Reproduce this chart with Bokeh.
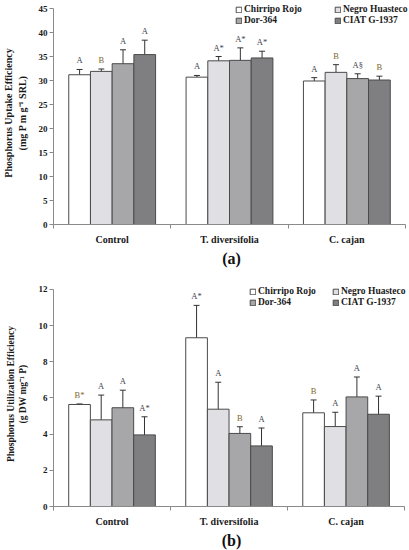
import numpy as np
from bokeh.plotting import figure
from bokeh.models import (ColumnDataSource, Whisker, TeeHead, Legend, LegendItem,
                          FixedTicker, Title, Range1d)
from bokeh.layouts import column
from bokeh.core.properties import value
from bokeh.embed import file_html
from bokeh.resources import INLINE

# ---------------- data ----------------
groups = ["Control", "T. diversifolia", "C. cajan"]
cultivars = ["Chirripo Rojo", "Negro Huasteco", "Dor-364", "CIAT G-1937"]

# (a) Phosphorus uptake efficiency
pupe_chirripo = [31.2, 30.7, 29.9]
pupe_negro = [31.9, 34.1, 31.7]
pupe_dor = [33.5, 34.2, 30.4]
pupe_ciat = [35.4, 34.7, 30.1]
pupe_chirripo_err = [1.1, 0.35, 0.7]
pupe_negro_err = [0.5, 0.9, 1.6]
pupe_dor_err = [2.9, 2.6, 1.0]
pupe_ciat_err = [3.0, 1.4, 0.8]
pupe_chirripo_lbl = ["A", "A", "A"]
pupe_negro_lbl = ["B", "A*", "B"]
pupe_dor_lbl = ["A", "A*", "A§"]
pupe_ciat_lbl = ["A", "A*", "B"]

# (b) Phosphorus utilization efficiency
pute_chirripo = [5.64, 9.33, 5.18]
pute_negro = [4.79, 5.38, 4.42]
pute_dor = [5.46, 4.04, 6.06]
pute_ciat = [3.96, 3.35, 5.10]
pute_chirripo_err = [0.03, 1.79, 0.71]
pute_negro_err = [1.37, 1.49, 0.79]
pute_dor_err = [0.97, 0.37, 1.10]
pute_ciat_err = [1.00, 0.99, 1.00]
pute_chirripo_lbl = ["B*", "A*", "B"]
pute_negro_lbl = ["A", "A", "A"]
pute_dor_lbl = ["A", "B", "A"]
pute_ciat_lbl = ["A*", "A", "A"]

fill_colors = ["#ffffff", "#e0dfe3", "#a7a7a9", "#7f7f81"]
SERIF = "Liberation Serif"
SERIF_V = value(SERIF)
offsets = [-0.2775, -0.0925, 0.0925, 0.2775]
BAR_W = 0.185


def make_chart(means, errs, lbls, ymax, yend, xend, ystep, ylabel, tag, height, bt, bb, bl,
               ylab_size, leg_pos):
    p = figure(width=409, height=height, output_backend="svg", toolbar_location=None,
               x_range=Range1d(0, xend), y_range=Range1d(0, yend),
               min_border_left=bl, min_border_right=0, min_border_top=bt,
               min_border_bottom=bb)
    p.outline_line_color = None
    p.grid.visible = False
    p.background_fill_color = "white"

    xc = np.arange(len(groups)) + 0.5
    renderers = []
    for i in range(4):
        xs = xc + offsets[i]
        m = np.array(means[i])
        e = np.array(errs[i])
        src = ColumnDataSource(dict(x=xs, top=m, up=m + e, lo=m - e, lbl=lbls[i],
                                    col=["#7d6a2a" if s.startswith("B") else "#3c4450"
                                         for s in lbls[i]]))
        r = p.vbar(x="x", top="top", width=BAR_W, source=src, fill_color=fill_colors[i],
                   line_color="#4a4a4a", line_width=1)
        renderers.append(r)
        w = Whisker(base="x", upper="up", lower="lo", source=src, line_color="#333333",
                    line_width=1,
                    upper_head=TeeHead(size=6, line_color="#333333", line_width=1),
                    lower_head=TeeHead(size=6, line_color="#333333", line_width=1))
        p.add_layout(w)
        p.text(x="x", y="up", text="lbl", source=src, text_align="center",
               text_baseline="bottom", y_offset=-4, text_font=SERIF_V,
               text_font_size="8.5px", text_color="col")

    # axes
    p.xaxis.ticker = FixedTicker(ticks=list(xc), minor_ticks=[0, 1, 2, 3])
    p.xaxis.major_label_overrides = {float(x): g for x, g in zip(xc, groups)}
    p.xaxis.bounds = (0, len(groups))
    p.xaxis.major_tick_out = 0
    p.xaxis.major_tick_in = 0
    p.xaxis.minor_tick_out = 4
    p.xaxis.minor_tick_in = 0
    p.xaxis.major_label_standoff = 5
    p.yaxis.ticker = FixedTicker(ticks=list(np.arange(0, ymax + 0.01, ystep)), minor_ticks=[])
    p.yaxis.bounds = (0, ymax)
    p.yaxis.major_tick_out = 4
    p.yaxis.major_tick_in = 0
    p.yaxis.major_label_standoff = 2
    p.yaxis.axis_label = ylabel
    p.yaxis.axis_label_standoff = 8
    p.yaxis.axis_label_text_font = SERIF
    p.yaxis.axis_label_text_font_style = "bold"
    p.yaxis.axis_label_text_font_size = ylab_size
    p.yaxis.axis_label_text_color = "#1a1a1a"
    for ax in (p.xaxis, p.yaxis):
        ax.axis_line_color = "#8a8a8a"
        ax.major_tick_line_color = "#8a8a8a"
        ax.minor_tick_line_color = "#8a8a8a"
        ax.major_label_text_font = SERIF
        ax.major_label_text_font_style = "bold"
        ax.major_label_text_color = "#1a1a1a"
    p.xaxis.major_label_text_font_size = "10px"
    p.yaxis.major_label_text_font_size = "9px"

    # legends (two columns)
    for col_idx, (lx, ly) in enumerate(leg_pos):
        items = [LegendItem(label=cultivars[k], renderers=[renderers[k]])
                 for k in (col_idx, col_idx + 2)]
        leg = Legend(items=items, location=(lx, ly), orientation="vertical",
                     glyph_width=7, glyph_height=7, label_text_font=SERIF,
                     label_text_font_style="bold", label_text_font_size="9.5px",
                     label_text_color="#1a1a1a", label_height=10, label_standoff=2,
                     spacing=1, padding=0, margin=0, background_fill_alpha=0,
                     border_line_alpha=0)
        p.add_layout(leg)

    p.add_layout(Title(text=tag, align="center", text_font=SERIF, text_font_style="bold",
                       text_font_size="16px", text_color="#111111", standoff=0), "below")
    return p


p1 = make_chart([pupe_chirripo, pupe_negro, pupe_dor, pupe_ciat],
                [pupe_chirripo_err, pupe_negro_err, pupe_dor_err, pupe_ciat_err],
                [pupe_chirripo_lbl, pupe_negro_lbl, pupe_dor_lbl, pupe_ciat_lbl],
                45, 46.46, 3.034, 5, "Phosphorus Uptake Efficiency\n(mg P m g\u207b\u00b9 SRL)", "(a)",
                270, 1, 46, 48, "10px", [(182, 199), (281, 199)])

p2 = make_chart([pute_chirripo, pute_negro, pute_dor, pute_ciat],
                [pute_chirripo_err, pute_negro_err, pute_dor_err, pute_ciat_err],
                [pute_chirripo_lbl, pute_negro_lbl, pute_dor_lbl, pute_ciat_lbl],
                12, 12.44, 3.042, 2, "Phosphorus Utilization Efficiency\n(g DW mg\u207b\u00b9 P)", "(b)",
                280, 11, 44, 46, "9.5px", [(196, 199), (279, 199)])

layout = column(p1, p2, spacing=0)
open("out.html", "w").write(file_html(layout, INLINE))
